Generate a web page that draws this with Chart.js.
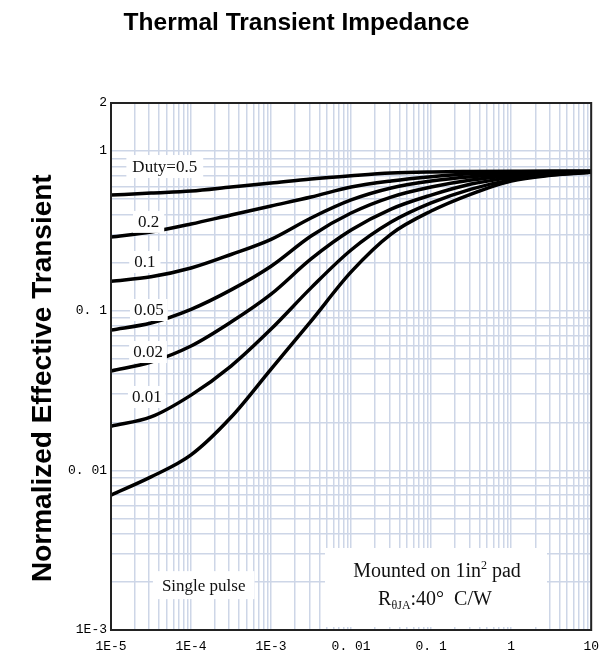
<!DOCTYPE html>
<html>
<head>
<meta charset="utf-8">
<script src="https://cdn.jsdelivr.net/npm/chart.js@4.4.1/dist/chart.umd.min.js"></script>
<style>
  body { margin: 0; background: #fff; }
  #wrap { width: 608px; height: 659px; }
</style>
</head>
<body>
<div id="wrap"><canvas id="chart" width="608" height="659"></canvas></div>
<script>
const pulseTime = [1e-5, 3.16e-5, 1e-4, 3.16e-4, 1e-3, 3.16e-3, 0.01, 0.0316, 0.1, 0.316, 1, 3.16, 10];

// normalized effective transient impedance, one list per duty cycle
const duty05  = [0.530, 0.546, 0.562, 0.595, 0.630, 0.668, 0.700, 0.728, 0.740, 0.745, 0.748, 0.750, 0.750];
const duty02  = [0.289, 0.311, 0.349, 0.398, 0.453, 0.515, 0.595, 0.649, 0.690, 0.720, 0.735, 0.742, 0.746];
const duty01  = [0.153, 0.163, 0.185, 0.225, 0.280, 0.381, 0.494, 0.587, 0.649, 0.690, 0.718, 0.732, 0.744];
const duty005 = [0.0756, 0.0837, 0.102, 0.135, 0.190, 0.294, 0.409, 0.515, 0.595, 0.658, 0.700, 0.725, 0.742];
const duty002 = [0.0419, 0.0477, 0.0601, 0.0849, 0.127, 0.211, 0.320, 0.433, 0.530, 0.622, 0.680, 0.718, 0.740];
const duty001 = [0.0189, 0.0216, 0.0296, 0.0450, 0.0767, 0.139, 0.240, 0.359, 0.473, 0.578, 0.660, 0.710, 0.738];
const single  = [0.0070, 0.0091, 0.0125, 0.0215, 0.0431, 0.0861, 0.175, 0.302, 0.421, 0.538, 0.650, 0.705, 0.736];

const curveNames = ['Duty=0.5', '0.2', '0.1', '0.05', '0.02', '0.01', 'Single pulse'];
const curveValues = [duty05, duty02, duty01, duty005, duty002, duty001, single];

// axis ticks
const xDecades = [1e-5, 1e-4, 1e-3, 0.01, 0.1, 1, 10];
const xTickLabels = ['1E-5', '1E-4', '1E-3', '0. 01', '0. 1', '1', '10'];
const yDecades = [0.001, 0.01, 0.1, 1, 2];
const yTickLabels = ['1E-3', '0. 01', '0. 1', '1', '2'];

// gridlines at 1..9 of every decade
function minorGrid(decades) {
  const out = [];
  decades.forEach((d, i) => {
    if (i === decades.length - 1 || decades[i + 1] !== d * 10) { out.push(d); return; }
    for (let k = 1; k <= 9; k++) out.push(+(k * d).toPrecision(6));
  });
  return out;
}
const xGrid = minorGrid(xDecades);
const yGrid = minorGrid(yDecades);

function labelFor(value, decades, labels) {
  const i = decades.findIndex(d => Math.abs(Math.log10(d) - Math.log10(value)) < 1e-6);
  return i >= 0 ? labels[i] : '';
}

const serif = '"Liberation Serif", "Times New Roman", serif';

// curve labels and the note box
const notesPlugin = {
  id: 'notes',
  afterDatasetsDraw(chart) {
    const {ctx, chartArea: ca, scales: {x, y}} = chart;
    const tags = [
      {text: 'Duty=0.5', t: 4.7e-5, v: 0.80, padX: 6, h: 23},
      {text: '0.2', t: 2.95e-5, v: 0.36, padX: 5, h: 22},
      {text: '0.1', t: 2.65e-5, v: 0.202, padX: 5, h: 22},
      {text: '0.05', t: 2.97e-5, v: 0.101, padX: 4, h: 22},
      {text: '0.02', t: 2.9e-5, v: 0.0551, padX: 4, h: 22},
      {text: '0.01', t: 2.8e-5, v: 0.0288, padX: 4, h: 22},
      {text: 'Single pulse', t: 1.44e-4, v: 0.00191, padX: 9, h: 28}
    ];
    ctx.save();
    ctx.font = '17px ' + serif;
    ctx.textAlign = 'center';
    ctx.textBaseline = 'middle';
    tags.forEach(tag => {
      const px = x.getPixelForValue(tag.t);
      const py = y.getPixelForValue(tag.v);
      const w = ctx.measureText(tag.text).width + tag.padX * 2;
      ctx.fillStyle = '#fff';
      ctx.fillRect(px - w / 2, py - tag.h / 2, w, tag.h);
      ctx.fillStyle = '#111';
      ctx.fillText(tag.text, px, py + 1);
    });

    // mounting note
    const bx = ca.left + 214, by = ca.bottom - 82;
    ctx.fillStyle = '#fff';
    ctx.fillRect(bx, by, 222, 79);
    ctx.fillStyle = '#111';
    ctx.textAlign = 'left';
    ctx.textBaseline = 'alphabetic';
    const big = '20px ' + serif, small = '12px ' + serif;
    function runs(parts, cx, baseY) {
      let total = 0;
      parts.forEach(p => { ctx.font = p.font; total += ctx.measureText(p.text).width; });
      let cur = cx - total / 2;
      parts.forEach(p => {
        ctx.font = p.font;
        ctx.fillText(p.text, cur, baseY + p.dy);
        cur += ctx.measureText(p.text).width;
      });
    }
    runs([
      {text: 'Mounted on 1in', font: big, dy: 0},
      {text: '2', font: small, dy: -8},
      {text: ' pad', font: big, dy: 0}
    ], ca.left + 326, ca.bottom - 53);
    runs([
      {text: 'R', font: big, dy: 0},
      {text: 'θJA', font: small, dy: 4},
      {text: ':40°  C/W', font: big, dy: 0}
    ], ca.left + 324, ca.bottom - 25);
    ctx.restore();
  }
};

const framePlugin = {
  id: 'frame',
  afterDraw(chart) {
    const {ctx, chartArea: ca} = chart;
    ctx.save();
    ctx.strokeStyle = '#222';
    ctx.lineWidth = 2;
    ctx.strokeRect(ca.left, ca.top, ca.right - ca.left, ca.bottom - ca.top);
    ctx.restore();
  }
};

const grid = {color: '#cdd6e7', lineWidth: 1.5, drawTicks: false};
const tickFont = {family: '"Liberation Mono", "Courier New", monospace', size: 13};

new Chart(document.getElementById('chart'), {
  type: 'line',
  data: {
    datasets: curveValues.map((vals, i) => ({
      label: curveNames[i],
      data: pulseTime.map((t, j) => ({x: t, y: vals[j]})),
      borderColor: '#000',
      borderWidth: 3.5,
      pointRadius: 0,
      fill: false,
      cubicInterpolationMode: 'monotone'
    }))
  },
  options: {
    responsive: false,
    animation: false,
    layout: {padding: {left: 0, right: 15, top: 0, bottom: 0}},
    plugins: {
      legend: {display: false},
      tooltip: {enabled: false},
      title: {
        display: true,
        text: 'Thermal Transient Impedance',
        color: '#000',
        font: {family: '"Liberation Sans", Arial, sans-serif', size: 24.5, weight: 'bold'},
        padding: {top: 9, bottom: 64.6}
      }
    },
    scales: {
      x: {
        type: 'logarithmic',
        min: 1e-5,
        max: 10,
        grid: grid,
        border: {display: false},
        afterBuildTicks: axis => { axis.ticks = xGrid.map(v => ({value: v})); },
        afterFit: axis => { axis.height = 29; },
        ticks: {
          autoSkip: false, maxRotation: 0, padding: 9, color: '#000', font: tickFont,
          callback: v => labelFor(v, xDecades, xTickLabels)
        }
      },
      y: {
        type: 'logarithmic',
        min: 1e-3,
        max: 2,
        grid: grid,
        border: {display: false},
        afterBuildTicks: axis => { axis.ticks = yGrid.map(v => ({value: v})); },
        afterFit: axis => { axis.width = 111; },
        title: {
          display: true,
          // trailing spaces nudge the rotated title a little lower, as in the original
          text: 'Normalized Effective Transient   ',
          color: '#000',
          font: {family: '"Liberation Sans", Arial, sans-serif', size: 28, weight: 'bold'},
          padding: {top: 26, bottom: 0}
        },
        ticks: {
          autoSkip: false, padding: 4, color: '#000', font: tickFont,
          callback: v => labelFor(v, yDecades, yTickLabels)
        }
      }
    }
  },
  plugins: [notesPlugin, framePlugin]
});
</script>
</body>
</html>
